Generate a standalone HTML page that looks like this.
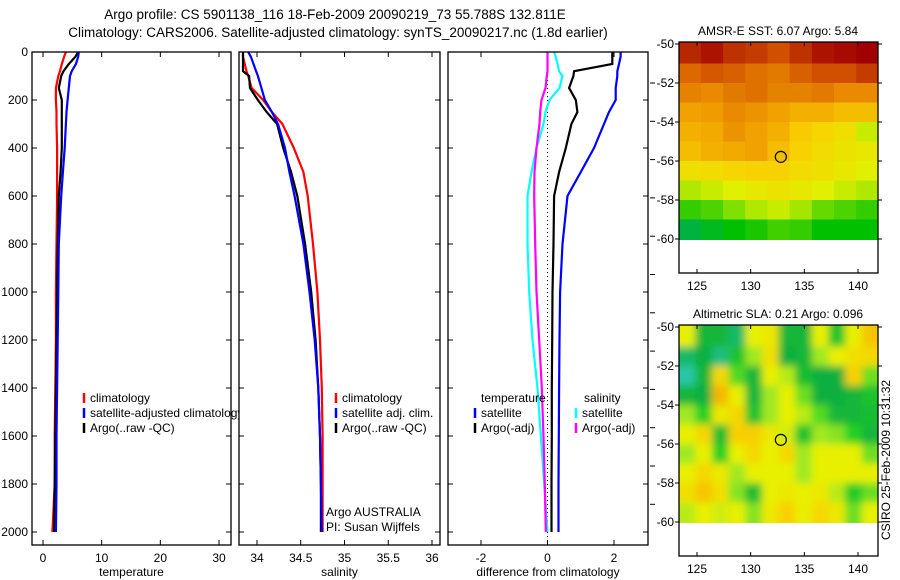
<!DOCTYPE html>
<html><head><meta charset="utf-8">
<style>
html,body{margin:0;padding:0;background:#fff;}
svg{display:block;font-family:"Liberation Sans",sans-serif;}
text{font-size:12px;fill:#000;}
</style></head>
<body>
<svg id="fig" width="900" height="580" viewBox="0 0 900 580">
<text x="335" y="19" text-anchor="middle" style="font-size:13.5px">Argo profile: CS 5901138_116 18-Feb-2009 20090219_73 55.788S 132.811E</text>
<text x="338" y="37" text-anchor="middle" style="font-size:13.5px">Climatology: CARS2006. Satellite-adjusted climatology: synTS_20090217.nc (1.8d earlier)</text>
</svg>
<script>
const depths=[0,20,50,80,100,150,200,250,300,400,500,600,800,1000,1200,1400,1600,1800,2000];
const tempClim=[3.9,3.6,3.2,2.9,2.6,2.2,2.2,2.3,2.3,2.4,2.4,2.4,2.3,2.2,2.2,2.1,2.0,2.0,1.6];
const tempSat=[6.1,6.0,5.6,4.9,4.6,4.4,4.2,4.0,3.9,3.7,3.4,3.1,2.7,2.6,2.5,2.4,2.3,2.3,2.2];
const tempArgo=[6.0,5.5,4.4,3.5,3.1,2.7,3.2,3.2,3.2,3.2,3.0,2.7,2.5,2.4,2.3,2.2,2.1,2.0,1.9];
const salClim=[33.84,33.84,33.86,33.88,33.9,33.94,34.07,34.17,34.29,34.42,34.53,34.58,34.64,34.69,34.72,34.74,34.75,34.75,34.75];
const salSat=[33.9,33.93,33.96,33.99,34.01,34.05,34.09,34.17,34.24,34.32,34.37,34.43,34.53,34.6,34.66,34.7,34.72,34.73,34.74];
const salArgo=[33.84,33.84,33.84,33.84,33.91,33.92,34.01,34.11,34.23,34.3,34.39,34.46,34.55,34.62,34.67,34.7,34.72,34.73,34.73];
const dTempSat=[2.2,2.2,2.15,2.1,2.1,2.05,2.05,1.85,1.7,1.4,1.0,0.6,0.45,0.38,0.36,0.35,0.34,0.33,0.33];
const dTempArgo=[1.95,1.95,1.95,0.8,0.78,0.65,0.85,0.9,0.72,0.55,0.35,0.2,0.18,0.15,0.14,0.13,0.13,0.12,0.12];
const dSalSat=[0.2,0.25,0.3,0.35,0.45,0.36,0.06,-0.06,-0.12,-0.33,-0.48,-0.6,-0.6,-0.55,-0.45,-0.3,-0.2,-0.1,0.0];
const dSalArgo=[0.0,0.0,0.0,0.0,-0.02,-0.06,-0.18,-0.22,-0.24,-0.33,-0.39,-0.4,-0.37,-0.33,-0.25,-0.17,-0.12,-0.08,-0.05];
const depthTicks=[0,200,400,600,800,1000,1200,1400,1600,1800,2000];
const tempTicks=[0,10,20,30];
const salTicks=[34,34.5,35,35.5,36];
const diffTicks=[-2,0,2];
const lonTicks=[125,130,135,140];
const latTicks=[-50,-52,-54,-56,-58,-60];
const sstGrid=[
[8.6,8.8,8.5,8.4,8.2,8.5,8.8,8.9,9.0],
[7.9,8.1,8.0,7.8,7.7,8.0,8.2,8.2,8.4],
[7.6,7.5,7.7,7.8,7.6,7.6,7.7,7.5,7.5],
[7.2,7.3,7.5,7.4,7.2,7.0,7.0,6.8,6.8],
[7.0,7.1,7.4,7.2,7.0,6.6,6.4,6.2,5.6],
[6.8,7.0,7.1,7.2,6.8,6.5,6.3,6.1,6.0],
[6.2,6.3,6.4,6.5,6.5,6.3,6.2,6.0,5.8],
[5.4,5.6,5.8,6.0,6.1,6.0,5.8,5.6,5.4],
[4.4,4.6,5.0,5.4,5.6,5.3,4.8,4.6,4.4],
[3.6,3.8,4.0,4.2,4.5,4.4,4.0,4.0,4.0]];
const slaGrid=[
[0,-1.2,-1.2,-1.5,0,0.1,-1.2,-1.2,0,-1,0,0.5],
[-1.5,-1.3,-1.6,-1.0,-0.3,0.2,-1.3,-1.2,-0.3,0,0.2,0.3],
[-1.8,-1.2,0.3,-0.6,-1.2,0,-0.2,-1.1,-1.3,-1.3,0.4,-0.5],
[-1.2,-1.3,0.6,0,-1.2,-0.3,0,-0.5,-1.3,-1.3,-1.2,-1.0],
[-0.3,-0.8,0.1,0.3,-1.0,-0.3,0,-0.2,-0.6,-1.2,-1.2,-1.1],
[0,0.3,-1.1,0.4,0.4,0.1,-0.1,-1.0,-0.3,-0.4,-0.8,-1.2],
[-0.3,0,-0.8,0,0.3,0,0.3,-0.3,0,0,0,-0.5],
[0,0.3,0.1,-0.3,0,0,0,-0.3,0,0,0,0],
[0.2,0.5,0.2,-0.4,-1.1,0,0.1,0,0.1,-0.2,-0.9,-0.5],
[-0.2,0,-0.1,0,-0.4,0.1,0.4,0,0.3,0.1,-0.5,0]];
const floatLon=132.811, floatLat=-55.788;

const NS='http://www.w3.org/2000/svg';
const svg=document.getElementById('fig');
function el(tag,attrs,parent){const e=document.createElementNS(NS,tag);for(const k in attrs)e.setAttribute(k,attrs[k]);(parent||svg).appendChild(e);return e;}
function lin(d0,d1,r0,r1){return v=>r0+(v-d0)*(r1-r0)/(d1-d0);}

const TOP=52, BOT=545;
const yD=lin(0,2000,52,532);

function panel(name,x0,x1,xs,ticks,fmt,xlabel,showY){
  const g=el('g',{});
  
  
  el('rect',{x:x0,y:TOP,width:x1-x0,height:BOT-TOP,fill:'#fff',stroke:'none'},g);
  depthTicks.forEach(d=>{
    const y=yD(d);
    el('line',{x1:x0,y1:y,x2:x0+5,y2:y,stroke:'#000'},g);
    el('line',{x1:x1-5,y1:y,x2:x1,y2:y,stroke:'#000'},g);
    if(showY){const t=el('text',{x:x0-4,y:y+4,'text-anchor':'end'},g);t.textContent=d;
      }
  });
  ticks.forEach(v=>{
    const x=xs(v);
    el('line',{x1:x,y1:BOT,x2:x,y2:BOT-5,stroke:'#000'},g);
    el('line',{x1:x,y1:TOP,x2:x,y2:TOP+5,stroke:'#000'},g);
    const t=el('text',{x:x,y:BOT+17,'text-anchor':'middle'},g);t.textContent=fmt(v);
    
  });
  const xl=el('text',{x:(x0+x1)/2,y:BOT+31,'text-anchor':'middle'},g);xl.textContent=xlabel;
  
  return g;
}
function series(g,xs,vals,color,name,w){
  const pts=vals.map((v,i)=>xs(v).toFixed(1)+','+yD(depths[i]).toFixed(1)).join(' ');
  const p=el('polyline',{points:pts,fill:'none',stroke:color,'stroke-width':w||2.2},g);
  
}
function frame(g,x0,x1){el('rect',{x:x0,y:TOP,width:x1-x0,height:BOT-TOP,fill:'none',stroke:'#000','stroke-width':1.3},g);}
function legend(g,x,y,color,label,name){
  el('line',{x1:x-6,y1:y-9,x2:x-6,y2:y+1,stroke:color,'stroke-width':2.5},g);
  const t=el('text',{x:x,y:y},g);t.textContent=label;
  
}

const xT=lin(0,30,43,219);
const p1=panel('temperature-panel',32,231,xT,tempTicks,v=>v,'temperature',true);
series(p1,xT,tempClim,'#f00','temp-climatology-line');
series(p1,xT,tempArgo,'#000','temp-argo-line');
series(p1,xT,tempSat,'#00f','temp-satellite-line');
legend(p1,90,402,'#f00','climatology','legend-climatology');
legend(p1,90,417,'#00f','satellite-adjusted climatology','legend-satellite-adjusted');
legend(p1,90,432,'#000','Argo(..raw -QC)','legend-argo');
frame(p1,32,231);

const xS=lin(34,36,257,432);
const p2=panel('salinity-panel',239,440,xS,salTicks,v=>v,'salinity',false);
series(p2,xS,salClim,'#f00','sal-climatology-line');
series(p2,xS,salArgo,'#000','sal-argo-line');
series(p2,xS,salSat,'#00f','sal-satellite-line');
legend(p2,342,402,'#f00','climatology','legend-climatology');
legend(p2,342,417,'#00f','satellite adj. clim.','legend-satellite-adj');
legend(p2,342,432,'#000','Argo(..raw -QC)','legend-argo');
const a1=el('text',{x:326,y:516},p2);a1.textContent='Argo AUSTRALIA';

const a2=el('text',{x:326,y:531},p2);a2.textContent='PI: Susan Wijffels';

frame(p2,239,440);

const xDf=lin(-2,2,481,614);
const p3=panel('difference-panel',448,648,xDf,diffTicks,v=>v,'difference from climatology',false);
el('line',{x1:xDf(0),y1:TOP,x2:xDf(0),y2:BOT,stroke:'#000','stroke-dasharray':'1,3'},p3);
series(p3,xDf,dSalSat,'#0ff','diff-sal-satellite-line');
series(p3,xDf,dSalArgo,'#f0f','diff-sal-argo-line');
series(p3,xDf,dTempArgo,'#000','diff-temp-argo-line');
series(p3,xDf,dTempSat,'#00f','diff-temp-satellite-line');
const lt=el('text',{x:481,y:402},p3);lt.textContent='temperature';

const ls=el('text',{x:584,y:402},p3);ls.textContent='salinity';

legend(p3,481,417,'#00f','satellite','legend-temp-satellite');
legend(p3,481,432,'#000','Argo(-adj)','legend-temp-argo');
legend(p3,582,417,'#0ff','satellite','legend-sal-satellite');
legend(p3,582,432,'#f0f','Argo(-adj)','legend-sal-argo');
frame(p3,448,648);
for(let i=0;i<12;i++){const y=83+38.3*i;if(y<540)el('line',{x1:650,y1:y,x2:655,y2:y,stroke:'#000'});}

function interp(stops,v){
  if(v<=stops[0][0])return 'rgb('+stops[0][1].join(',')+')';
  for(let i=1;i<stops.length;i++){if(v<=stops[i][0]){const a=stops[i-1],b=stops[i],t=(v-a[0])/(b[0]-a[0]);
    return 'rgb('+[0,1,2].map(k=>Math.round(a[1][k]+(b[1][k]-a[1][k])*t)).join(',')+')';}}
  return 'rgb('+stops[stops.length-1][1].join(',')+')';
}
const sstStops=[[3,[0,160,160]],[4,[0,192,0]],[5,[128,224,0]],[5.8,[224,240,0]],[6.5,[248,210,0]],[7.3,[240,155,0]],[8.2,[208,80,0]],[9,[160,0,0]]];
const slaStops=[[-2,[48,208,208]],[-1.3,[16,176,64]],[-0.8,[32,208,32]],[-0.3,[160,232,32]],[0,[232,240,0]],[0.4,[248,208,0]],[0.8,[240,160,0]]];

const defs=el('defs',{});
const f=el('filter',{id:'blurf',filterUnits:'userSpaceOnUse',x:600,y:0,width:300,height:580},defs);
el('feGaussianBlur',{stdDeviation:4},f);

function map(name,title,top,grid,stops,blur){
  const g=el('g',{});
  
  const x0=679,x1=878,boxBot=top+231;
  const xL=lin(125,140,697,858);
  const yL=lin(-50,-60,top+2,top+197);
  const lonMin=123.3,lonMax=141.9;
  el('rect',{x:x0,y:top,width:x1-x0,height:boxBot-top,fill:'#fff'},g);
  const cp=el('clipPath',{id:'clip-'+name},g);
  el('rect',{x:x0,y:top,width:x1-x0,height:yL(-60.05)-top},cp);
  const cg=el('g',{'clip-path':'url(#clip-'+name+')'},g);
  const cells=el('g',blur?{filter:'url(#blurf)'}:{},cg);
  const cw=(lonMax-lonMin)/grid[0].length;
  const nR=grid.length,nC=grid[0].length;
  grid.forEach((row,r)=>row.forEach((v,c)=>{
    let xa=xL(lonMin+c*cw),xb=xL(lonMin+(c+1)*cw);
    let ya=yL(-50-r),yb=yL(-51-r);
    if(c===0)xa-=12; if(c===nC-1)xb+=12;
    if(r===0)ya-=12; if(r===nR-1)yb+=12;
    const rc=el('rect',{x:xa,y:ya,width:xb-xa+0.5,height:yb-ya+0.5,fill:interp(stops,v)},cells);
    
  }));
  el('circle',{cx:xL(floatLon),cy:yL(floatLat),r:5.5,fill:'none',stroke:'#000','stroke-width':1.2},g);
  lonTicks.forEach(v=>{const x=xL(v);
    el('line',{x1:x,y1:boxBot,x2:x,y2:boxBot-4,stroke:'#000'},g);
    el('line',{x1:x,y1:top,x2:x,y2:top+4,stroke:'#000'},g);
    const t=el('text',{x:x,y:boxBot+17,'text-anchor':'middle'},g);t.textContent=v;
    });
  latTicks.forEach(v=>{const y=yL(v);
    el('line',{x1:x0,y1:y,x2:x0-4,y2:y,stroke:'#000'},g);
    el('line',{x1:x1,y1:y,x2:x1+4,y2:y,stroke:'#000'},g);
    const t=el('text',{x:x0-5,y:y+4,'text-anchor':'end'},g);t.textContent=v;
    });
  el('rect',{x:x0,y:top,width:x1-x0,height:boxBot-top,fill:'none',stroke:'#000','stroke-width':1.3},g);
  const tt=el('text',{x:778,y:top-7,'text-anchor':'middle'},g);tt.textContent=title;
  
}
map('sst-map','AMSR-E SST: 6.07 Argo: 5.84',42,sstGrid,sstStops,false);
map('sla-map','Altimetric SLA: 0.21 Argo: 0.096',325,slaGrid,slaStops,true);
const cs=el('text',{x:0,y:0,transform:'translate(890,460) rotate(-90)','text-anchor':'middle'});
cs.textContent='CSIRO 25-Feb-2009 10:31:32';


</script>
</body></html>
